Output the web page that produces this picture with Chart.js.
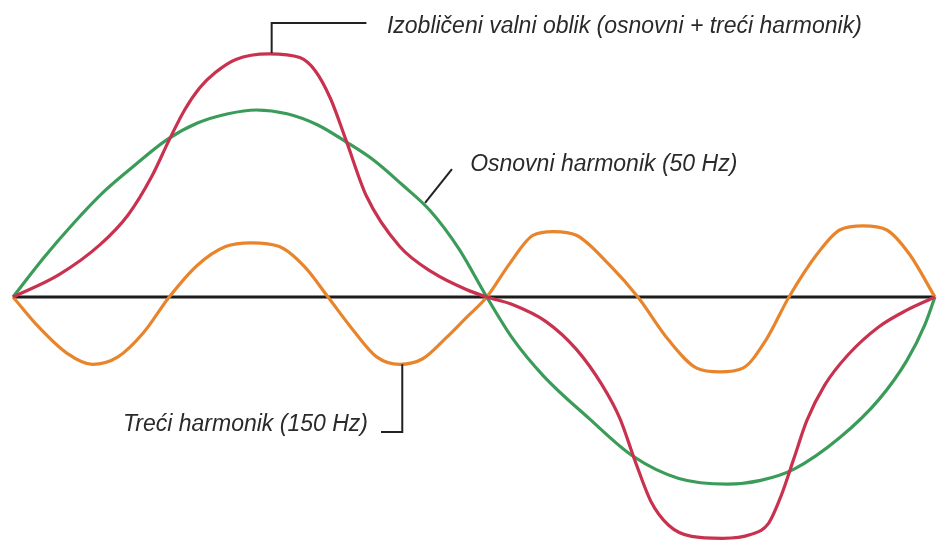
<!DOCTYPE html>
<html>
<head>
<meta charset="utf-8">
<script src="https://cdn.jsdelivr.net/npm/chart.js@4/dist/chart.umd.min.js"></script>
<style>
  html, body { margin: 0; padding: 0; background: #fff; }
  #wave-chart { display: block; }
</style>
</head>
<body>
<canvas id="wave-chart" width="937" height="540"></canvas>
<script>
// angle in degrees (one period of 50 Hz), amplitude in % of the fundamental peak
const fundDeg = [0, 12, 24, 36, 48, 60, 72, 84, 95, 107, 119, 130, 141, 152, 163, 174, 185,
  195, 207, 225, 242, 260, 279, 292, 305, 323, 338, 349, 356, 360];
const fundVal = [0, 21, 40, 57, 71, 84, 93, 98, 100, 98, 92, 83, 73, 60, 46, 26, 0,
  -22, -42, -65, -85, -97, -100, -98, -92, -75, -55, -34, -15, 0];

const thirdDeg = [0, 10, 21, 31, 41, 51, 61, 72, 83, 93, 104, 114, 123, 133, 142, 151, 160, 169, 177, 185,
  194, 203, 211, 220, 233, 244, 256, 267, 276, 285, 294, 303, 314, 323, 332, 341, 350, 360];
const thirdVal = [0, -16, -30, -36, -32, -19, 0, 17, 27, 29, 27, 16, 0, -18, -32, -36, -33, -22, -11, 0,
  18, 33, 35, 33, 17, 0, -23, -38, -40, -38, -23, 0, 23, 36, 38, 36, 23, 0];

const distDeg = [0, 18, 34, 45, 54, 61, 67, 73, 79, 87, 100, 112, 118, 124, 130, 138, 151, 164, 177, 185,
  195, 208, 220, 230, 237, 243, 249, 256, 265, 277, 288, 295, 300, 305, 310, 317, 326, 338, 349, 360];
const distVal = [0, 12, 28, 44, 64, 84, 100, 112, 120, 127, 130, 128, 121, 106, 84, 54, 27, 13, 4, 0,
  -4, -13, -28, -47, -65, -88, -109, -122, -128, -129, -127, -121, -106, -86, -66, -47, -31, -16, -7, 0];

const axisDeg = [0, 360];
const axisVal = [0, 0];

// callout labels: text anchor [deg, value] and leader polyline points
const labels = [
  { text: "Izobličeni valni oblik (osnovni + treći harmonik)", at: [146, 141], align: "left",
    leader: [[101, 130.5], [101, 146.5], [138, 146.5]] },
  { text: "Osnovni harmonik (50 Hz)", at: [178.5, 67.4], align: "left",
    leader: [[160.9, 50.3], [171.4, 68.4]] },
  { text: "Treći harmonik (150 Hz)", at: [138.6, -71.7], align: "right",
    leader: [[152, -36], [152, -72.2], [143.7, -72.2]] },
];

const toPoints = (xs, ys) => xs.map((x, i) => ({ x: x, y: ys[i] }));

const calloutPlugin = {
  id: "callouts",
  afterDatasetsDraw(chart) {
    const ctx = chart.ctx;
    const sx = chart.scales.x;
    const sy = chart.scales.y;
    ctx.save();
    ctx.strokeStyle = "#222";
    ctx.lineWidth = 2;
    labels.forEach((lab) => {
      ctx.beginPath();
      lab.leader.forEach((p, i) => {
        const px = sx.getPixelForValue(p[0]);
        const py = sy.getPixelForValue(p[1]);
        if (i === 0) ctx.moveTo(px, py);
        else ctx.lineTo(px, py);
      });
      ctx.stroke();
    });
    ctx.fillStyle = "#2a2a2a";
    ctx.font = "italic 23px 'Liberation Sans', Arial, sans-serif";
    ctx.textBaseline = "alphabetic";
    labels.forEach((lab) => {
      ctx.textAlign = lab.align;
      ctx.fillText(lab.text, sx.getPixelForValue(lab.at[0]), sy.getPixelForValue(lab.at[1]));
    });
    ctx.restore();
  },
};

const lineStyle = {
  borderWidth: 3.2,
  pointRadius: 0,
  fill: false,
  cubicInterpolationMode: "monotone",
  clip: false,
};

new Chart(document.getElementById("wave-chart"), {
  type: "line",
  data: {
    datasets: [
      Object.assign({ label: "Izobličeni valni oblik", data: toPoints(distDeg, distVal), borderColor: "#c8324f" }, lineStyle),
      Object.assign({ label: "Osnovni harmonik (50 Hz)", data: toPoints(fundDeg, fundVal), borderColor: "#3b9c5a" }, lineStyle),
      Object.assign({ label: "Treći harmonik (150 Hz)", data: toPoints(thirdDeg, thirdVal), borderColor: "#e8852c" }, lineStyle),
      { label: "os", data: toPoints(axisDeg, axisVal), borderColor: "#1c1c1c", borderWidth: 3, pointRadius: 0, tension: 0 },
    ],
  },
  options: {
    responsive: false,
    devicePixelRatio: 1,
    animation: false,
    events: [],
    layout: { padding: 0 },
    plugins: {
      legend: { display: false },
      tooltip: { enabled: false },
    },
    scales: {
      x: { type: "linear", min: -5.08, max: 360.8, display: false },
      y: { type: "linear", min: -129.9, max: 158.8, display: false },
    },
  },
  plugins: [calloutPlugin],
});
</script>
</body>
</html>
